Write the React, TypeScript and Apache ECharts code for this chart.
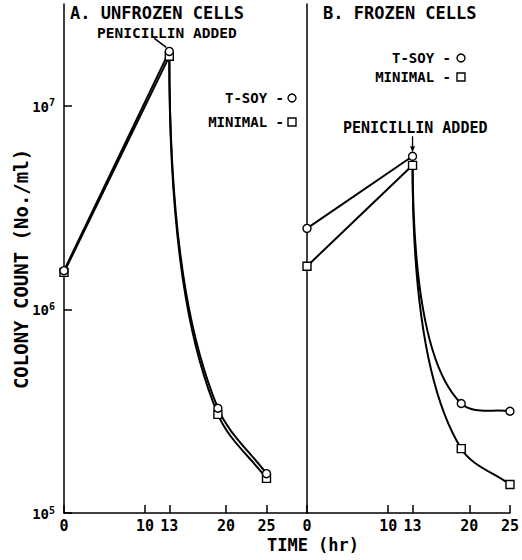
import React, { useEffect, useRef } from "react";
import * as echarts from "echarts";

// ---- data ----
const hoursA = [0, 13, 19, 25];
const tsoyA = [1.55e6, 1.85e7, 3.27e5, 1.56e5];
const minimalA = [1.52e6, 1.75e7, 3.05e5, 1.48e5];
const hoursB = [0, 13, 19, 25];
const tsoyB = [2.5e6, 5.65e6, 3.45e5, 3.16e5];
const minimalB = [1.63e6, 5.1e6, 2.07e5, 1.38e5];
const timeTicks = [0, 10, 13, 20, 25];
const countTicks = [1e5, 1e6, 1e7];
const penicillinHour = 13;

const FONT = "DejaVu Sans Mono";
const WEIGHT = "bold";
const BLACK = "#000";

function pts(h: number[], v: number[], from: number, to: number) {
  return h.slice(from, to).map((x, i) => [x, v[from + i]]);
}

// straight segment (before penicillin)
function lineSeries(grid: number, data: number[][]) {
  return {
    type: "line",
    xAxisIndex: grid,
    yAxisIndex: grid,
    data,
    symbol: "none",
    lineStyle: { color: BLACK, width: 2 },
    z: 2,
  };
}

function unit(x: number, y: number) {
  const l = Math.hypot(x, y) || 1;
  return [x / l, y / l];
}

// hand-fitted decay curve after penicillin: leaves the first point vertically,
// tangents at inner points bisect the neighbouring chords
function curveSeries(grid: number, data: number[][]) {
  return {
    type: "custom",
    xAxisIndex: grid,
    yAxisIndex: grid,
    coordinateSystem: "cartesian2d",
    data,
    encode: { x: 0, y: 1 },
    z: 2,
    silent: true,
    renderItem: (params: any, api: any) => {
      if (params.dataIndex !== 0) return null;
      const p = data.map((d) => api.coord(d) as number[]);
      const n = p.length;
      const chordDir = (i: number) => unit(p[i + 1][0] - p[i][0], p[i + 1][1] - p[i][1]);
      const tan: number[][] = [];
      for (let i = 0; i < n; i++) {
        if (i === 0) tan.push([0, 1]);
        else if (i === n - 1) tan.push(chordDir(n - 2));
        else {
          const a = chordDir(i - 1);
          const b = chordDir(i);
          tan.push(unit(a[0] + b[0], a[1] + b[1]));
        }
      }
      let d = `M${p[0][0]},${p[0][1]}`;
      for (let i = 0; i < n - 1; i++) {
        const chord = Math.hypot(p[i + 1][0] - p[i][0], p[i + 1][1] - p[i][1]);
        const a1 = i === 0 ? 0.6 : 1 / 3;
        const b1 = i === 0 ? 0.15 : 1 / 3;
        const c1 = [p[i][0] + tan[i][0] * a1 * chord, p[i][1] + tan[i][1] * a1 * chord];
        const c2 = [p[i + 1][0] - tan[i + 1][0] * b1 * chord, p[i + 1][1] - tan[i + 1][1] * b1 * chord];
        d += ` C${c1[0]},${c1[1]} ${c2[0]},${c2[1]} ${p[i + 1][0]},${p[i + 1][1]}`;
      }
      return {
        type: "path",
        shape: { pathData: d },
        style: { fill: "none", stroke: BLACK, lineWidth: 2 },
      };
    },
  };
}

function markers(grid: number, h: number[], v: number[], symbol: string) {
  return {
    type: "scatter",
    xAxisIndex: grid,
    yAxisIndex: grid,
    data: pts(h, v, 0, h.length),
    symbol,
    symbolSize: 8,
    itemStyle: { color: "#fff", opacity: 1, borderColor: BLACK, borderWidth: 1.4 },
    z: symbol === "circle" ? 4 : 3,
  };
}

function xAxisFor(grid: number, max: number) {
  return {
    gridIndex: grid,
    type: "value",
    min: 0,
    max,
    axisLine: { show: true, onZero: false, lineStyle: { color: BLACK, width: 1.5 } },
    axisTick: {
      show: true,
      inside: true,
      length: 8,
      customValues: timeTicks,
      lineStyle: { color: BLACK, width: 1.5 },
    },
    axisLabel: {
      customValues: timeTicks,
      margin: 5,
      fontFamily: FONT,
      fontWeight: WEIGHT,
      fontSize: 15,
      color: BLACK,
    },
    splitLine: { show: false },
  };
}

function yAxisFor(grid: number, labels: boolean) {
  return {
    gridIndex: grid,
    type: "log",
    logBase: 10,
    min: 1e5,
    max: Math.pow(10, 7.5),
    axisLine: { show: true, onZero: false, lineStyle: { color: BLACK, width: 1.5 } },
    axisTick: {
      show: labels,
      inside: true,
      length: 8,
      customValues: countTicks,
      lineStyle: { color: BLACK, width: 1.5 },
    },
    axisLabel: {
      show: labels,
      customValues: countTicks,
      margin: 9,
      formatter: (v: number) => `{b|10}{s|${Math.round(Math.log10(v))}}`,
      rich: {
        b: { fontFamily: FONT, fontWeight: WEIGHT, fontSize: 14, color: BLACK, verticalAlign: "bottom", lineHeight: 16 },
        s: { fontFamily: FONT, fontWeight: WEIGHT, fontSize: 10, color: BLACK, verticalAlign: "top", lineHeight: 10, padding: [0, 0, 8, 0] },
      },
    },
    splitLine: { show: false },
  };
}

function txt(text: string, x: number, y: number, fontSize: number, align = "left", rotation = 0) {
  return {
    type: "text",
    x,
    y,
    rotation,
    style: {
      text,
      fontFamily: FONT,
      fontWeight: WEIGHT,
      fontSize,
      fill: BLACK,
      align,
      verticalAlign: "middle",
    },
  };
}

export default function App() {
  const ref = useRef<HTMLDivElement>(null);

  useEffect(() => {
    if (!ref.current) return;
    const chart = echarts.init(ref.current, undefined, { renderer: "svg" });

    const option: any = {
      animation: false,
      backgroundColor: "#fff",
      grid: [
        { left: 64, top: 4, width: 243, height: 509 },
        { left: 307, top: 4, width: 205, height: 509 },
      ],
      xAxis: [xAxisFor(0, 30), xAxisFor(1, 25)],
      yAxis: [yAxisFor(0, true), yAxisFor(1, false)],
      series: [
        lineSeries(0, pts(hoursA, tsoyA, 0, 2)),
        lineSeries(0, pts(hoursA, minimalA, 0, 2)),
        curveSeries(0, pts(hoursA, tsoyA, 1, 4)),
        curveSeries(0, pts(hoursA, minimalA, 1, 4)),
        lineSeries(1, pts(hoursB, tsoyB, 0, 2)),
        lineSeries(1, pts(hoursB, minimalB, 0, 2)),
        curveSeries(1, pts(hoursB, tsoyB, 1, 4)),
        curveSeries(1, pts(hoursB, minimalB, 1, 4)),
        markers(0, hoursA, minimalA, "rect"),
        markers(0, hoursA, tsoyA, "circle"),
        markers(1, hoursB, minimalB, "rect"),
        markers(1, hoursB, tsoyB, "circle"),
      ],
    };
    chart.setOption(option);

    const iA = hoursA.indexOf(penicillinHour);
    const iB = hoursB.indexOf(penicillinHour);
    const pA = chart.convertToPixel({ gridIndex: 0 }, [penicillinHour, tsoyA[iA]]) as number[];
    const pB = chart.convertToPixel({ gridIndex: 1 }, [penicillinHour, tsoyB[iB]]) as number[];

    const graphic: any[] = [
      txt("A. UNFROZEN CELLS", 70, 13, 17),
      txt("B. FROZEN CELLS", 323, 13, 17),
      txt("PENICILLIN ADDED", 97, 33, 14.5),
      txt("PENICILLIN ADDED", 343, 128, 15),
      // pointer A
      {
        type: "line",
        shape: { x1: pA[0] - 15, y1: pA[1] - 13, x2: pA[0] - 3, y2: pA[1] - 4 },
        style: { stroke: BLACK, lineWidth: 1.5 },
      },
      // arrow B
      {
        type: "line",
        shape: { x1: pB[0], y1: pB[1] - 20, x2: pB[0], y2: pB[1] - 8 },
        style: { stroke: BLACK, lineWidth: 1.3 },
      },
      {
        type: "polygon",
        shape: {
          points: [
            [pB[0] - 2.5, pB[1] - 10],
            [pB[0] + 2.5, pB[1] - 10],
            [pB[0], pB[1] - 4],
          ],
        },
        style: { fill: BLACK },
      },
      // legend A
      txt("T-SOY -", 284, 98, 14, "right"),
      { type: "circle", shape: { cx: 292, cy: 98, r: 4 }, style: { fill: "#fff", stroke: BLACK, lineWidth: 1.4 } },
      txt("MINIMAL -", 284, 122, 14, "right"),
      { type: "rect", shape: { x: 288, y: 118, width: 8, height: 8 }, style: { fill: "#fff", stroke: BLACK, lineWidth: 1.4 } },
      // legend B
      txt("T-SOY -", 451, 58, 14, "right"),
      { type: "circle", shape: { cx: 461, cy: 58, r: 4 }, style: { fill: "#fff", stroke: BLACK, lineWidth: 1.4 } },
      txt("MINIMAL -", 451, 77, 14, "right"),
      { type: "rect", shape: { x: 457, y: 73, width: 8, height: 8 }, style: { fill: "#fff", stroke: BLACK, lineWidth: 1.4 } },
      // axis titles
      txt("COLONY COUNT (No./ml)", 21, 269, 19, "center", Math.PI / 2),
      txt("TIME (hr)", 313, 545, 17, "center"),
    ];
    chart.setOption({ graphic });

    return () => chart.dispose();
  }, []);

  return (
    <div
      ref={ref}
      style={{ position: "fixed", left: 0, top: 0, width: 522, height: 560, background: "#fff" }}
    />
  );
}
